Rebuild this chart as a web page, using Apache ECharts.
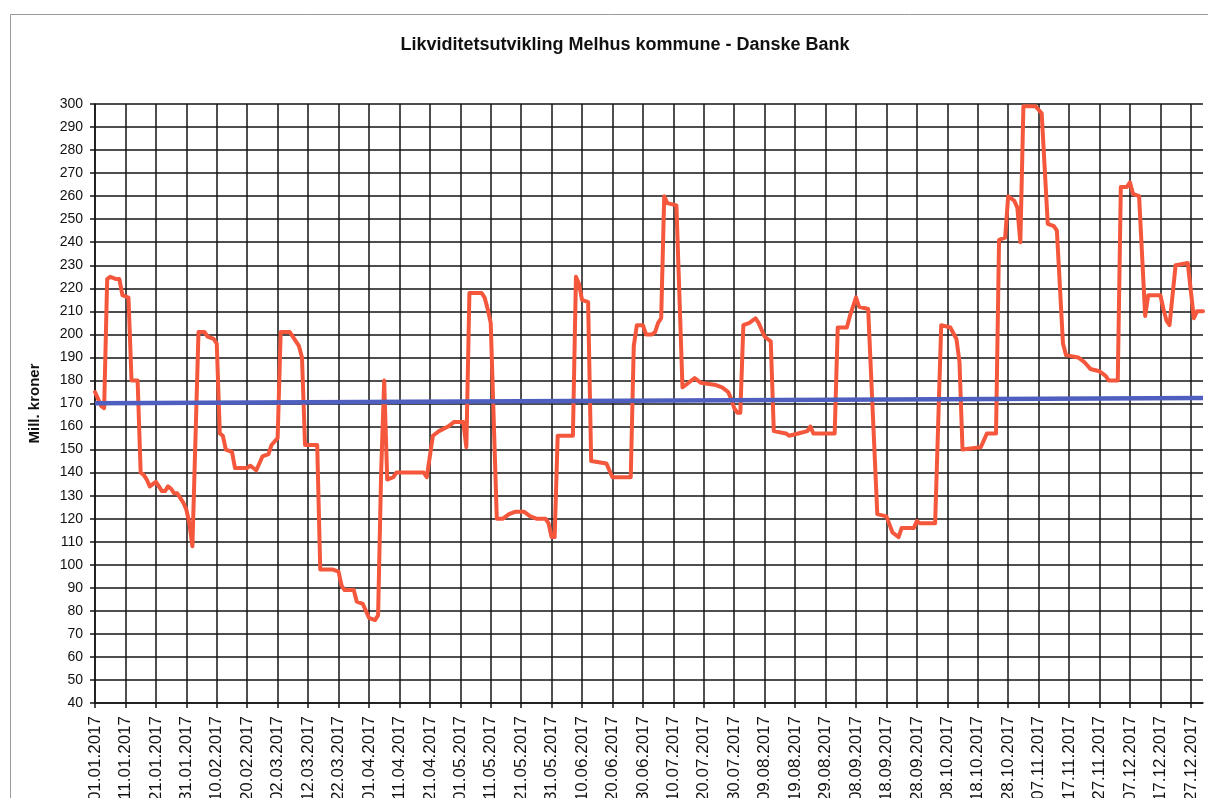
<!DOCTYPE html>
<html>
<head>
<meta charset="utf-8">
<script src="https://cdn.jsdelivr.net/npm/echarts@6/dist/echarts.min.js"></script>
<style>
  html, body { margin: 0; padding: 0; background: #ffffff; }
  #chart { width: 1208px; height: 798px; }
</style>
</head>
<body>
<div id="chart"></div>
<script>
const titleText = 'Likviditetsutvikling Melhus kommune - Danske Bank';
const yAxisName = 'Mill. kroner';
const year = 2017;

// Daily balance (mill. kroner), listed at each date where the curve changes course
const balancePoints = [
  ['01.01',175],['02.01',172],['03.01',169],['04.01',168],['05.01',224],['06.01',225],['08.01',224],['09.01',224],
  ['10.01',217],['12.01',216],['13.01',180],['15.01',180],['16.01',140],['17.01',139],['18.01',137],['19.01',134],
  ['20.01',135],['21.01',136],['22.01',134],['23.01',132],['24.01',132],['25.01',134],['26.01',133],['27.01',131],
  ['28.01',131],['29.01',129],['30.01',127],['31.01',124],['01.02',118],['02.02',108],['04.02',201],['06.02',201],
  ['07.02',199],['09.02',198],['10.02',196],['11.02',157],['12.02',156],['13.02',150],['15.02',149],['16.02',142],
  ['20.02',142],['21.02',143],['22.02',142],['23.02',141],['25.02',147],['27.02',148],['28.02',152],['02.03',155],
  ['03.03',201],['06.03',201],['07.03',199],['08.03',197],['09.03',195],['10.03',190],['11.03',152],['15.03',152],
  ['16.03',98],['20.03',98],['22.03',97],['23.03',91],['24.03',89],['27.03',89],['28.03',84],['30.03',83],
  ['31.03',80],['01.04',77],['03.04',76],['04.04',78],['05.04',140],['06.04',180],['07.04',137],['09.04',138],
  ['10.04',140],['19.04',140],['20.04',138],['22.04',156],['24.04',158],['27.04',160],['29.04',162],['02.05',162],
  ['03.05',151],['04.05',218],['08.05',218],['09.05',216],['10.05',211],['11.05',205],['13.05',120],['15.05',120],
  ['17.05',122],['19.05',123],['22.05',123],['24.05',121],['26.05',120],['29.05',120],['30.05',118],['31.05',112],
  ['01.06',112],['02.06',156],['07.06',156],['08.06',225],['09.06',222],['10.06',215],['12.06',214],['13.06',145],
  ['18.06',144],['20.06',138],['26.06',138],['27.06',195],['28.06',204],['30.06',204],['01.07',200],['03.07',200],
  ['04.07',201],['05.07',205],['06.07',207],['07.07',260],['08.07',257],['11.07',256],['13.07',177],['15.07',179],
  ['17.07',181],['19.07',179],['24.07',178],['26.07',177],['27.07',176],['28.07',175],['29.07',172],['30.07',168],
  ['31.07',166],['01.08',166],['02.08',204],['04.08',205],['06.08',207],['07.08',205],['09.08',199],['10.08',198],
  ['11.08',197],['12.08',158],['16.08',157],['17.08',156],['20.08',157],['23.08',158],['24.08',160],['25.08',157],
  ['01.09',157],['02.09',203],['05.09',203],['06.09',208],['08.09',216],['09.09',212],['12.09',211],['15.09',122],
  ['18.09',121],['20.09',114],['22.09',112],['23.09',116],['27.09',116],['28.09',119],['29.09',118],['04.10',118],
  ['06.10',204],['09.10',203],['11.10',198],['12.10',188],['13.10',150],['19.10',151],['20.10',154],['21.10',157],
  ['24.10',157],['25.10',241],['27.10',242],['28.10',260],['30.10',258],['31.10',255],['01.11',240],['02.11',299],
  ['06.11',299],['08.11',296],['10.11',248],['12.11',247],['13.11',245],['15.11',196],['16.11',191],['20.11',190],
  ['21.11',189],['22.11',188],['24.11',185],['27.11',184],['29.11',182],['30.11',180],['03.12',180],['04.12',264],
  ['06.12',264],['07.12',266],['08.12',261],['10.12',260],['12.12',208],['13.12',217],['17.12',217],['18.12',211],
  ['19.12',206],['20.12',204],['22.12',230],['26.12',231],['28.12',207],['29.12',210],['31.12',210]
];

// Straight reference line across the year
const trendPoints = [['01.01',170.1],['31.12',172.4]];

// One category per calendar day
const dates = [];
for (let t = Date.UTC(year, 0, 1); new Date(t).getUTCFullYear() === year; t += 86400000) {
  const d = new Date(t);
  const dd = String(d.getUTCDate()).padStart(2, '0');
  const mm = String(d.getUTCMonth() + 1).padStart(2, '0');
  dates.push(dd + '.' + mm + '.' + year);
}
const toSeries = pts => pts.map(p => [p[0] + '.' + year, p[1]]);

const chart = echarts.init(document.getElementById('chart'), null, { renderer: 'canvas' });
const gridColor = '#141414';
const font = 'Liberation Sans, Arial, sans-serif';

chart.setOption({
  animation: false,
  backgroundColor: '#ffffff',
  title: {
    text: titleText,
    left: 620,
    top: 31,
    textAlign: 'center',
    textStyle: { fontFamily: font, fontSize: 18, fontWeight: 'bold', color: '#111' }
  },
  graphic: [{
    type: 'rect',
    shape: { x: 10.5, y: 14.5, width: 1300, height: 900 },
    style: { fill: 'none', stroke: '#9a9a9a', lineWidth: 1 },
    silent: true
  }],
  grid: { left: 95, right: 5, top: 104, bottom: 95, containLabel: false, outerBoundsMode: 'none' },
  xAxis: {
    type: 'category',
    data: dates,
    boundaryGap: false,
    axisLine: { lineStyle: { color: gridColor, width: 1.5 } },
    axisTick: { show: true, interval: 9, length: 5, lineStyle: { color: gridColor, width: 1.5 } },
    axisLabel: {
      interval: 9, rotate: 90, margin: 13,
      fontFamily: font, fontSize: 17, color: '#111'
    },
    splitLine: { show: true, interval: 9, lineStyle: { color: gridColor, width: 1.5 } }
  },
  yAxis: {
    type: 'value',
    min: 40, max: 300, interval: 10,
    name: yAxisName,
    nameLocation: 'middle',
    nameRotate: 90,
    nameGap: 53,
    nameTextStyle: { fontFamily: font, fontSize: 15, fontWeight: 'bold', color: '#111' },
    axisLine: { show: true, lineStyle: { color: gridColor, width: 1.5 } },
    axisTick: { show: true, length: 5, lineStyle: { color: gridColor, width: 1.5 } },
    axisLabel: { margin: 12, fontFamily: font, fontSize: 14, color: '#111' },
    splitLine: { show: true, lineStyle: { color: gridColor, width: 1.5 } }
  },
  series: [
    {
      name: 'Saldo',
      type: 'line',
      data: toSeries(balancePoints),
      showSymbol: false,
      lineStyle: { color: '#f4573b', width: 4, join: 'round', cap: 'round' },
      z: 3
    },
    {
      name: 'Trend',
      type: 'line',
      data: toSeries(trendPoints),
      showSymbol: false,
      lineStyle: { color: '#4f5fbf', width: 4.5 },
      z: 4
    }
  ]
});
</script>
</body>
</html>
